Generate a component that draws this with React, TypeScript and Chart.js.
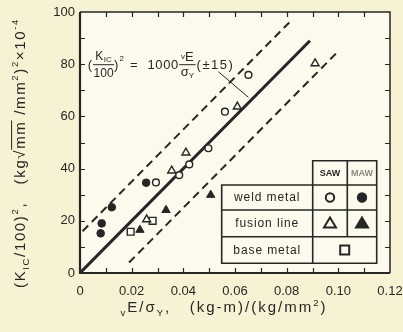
import React, { useEffect, useRef } from 'react';
import { Chart, registerables } from 'chart.js';

Chart.register(...registerables);

// ---------- data ----------
const xTickValues = [0, 0.02, 0.04, 0.06, 0.08, 0.1, 0.12];
const xTickLabels = ['0', '0.02', '0.04', '0.06', '0.08', '0.10', '0.12'];
const yTickValues = [0, 20, 40, 60, 80, 100];
const yTickLabels = ['0', '20', '40', '60', '80', '100'];

const sawWeldX = [0.0294, 0.0384, 0.0423, 0.0497, 0.0561, 0.0652];
const sawWeldY = [34.7, 37.5, 41.6, 47.8, 61.8, 75.9];
const mawWeldX = [0.008, 0.0084, 0.0123, 0.0256];
const mawWeldY = [15.2, 19.0, 25.2, 34.6];
const sawFusionX = [0.0258, 0.0355, 0.041, 0.0609, 0.091];
const sawFusionY = [20.5, 39.2, 46.1, 63.7, 80.3];
const mawFusionX = [0.0232, 0.0333, 0.0506];
const mawFusionY = [16.5, 24.1, 29.9];
const baseMetalX = [0.0196, 0.0281];
const baseMetalY = [15.8, 20.0];

const meanLineX = [0, 0.089];
const meanLineY = [0, 89];
const upperLineX = [0.001, 0.081];
const upperLineY = [16, 96];
const lowerLineX = [0.019, 0.1];
const lowerLineY = [4, 85];
const leaderX = [0.0536, 0.0652];
const leaderY = [77.1, 67.3];

const formulaAnchorX = 0.003;
const formulaAnchorY = 80;

const legendRows = ['weld metal', 'fusion line', 'base metal'];
const legendCols = ['SAW', 'MAW'];

// ---------- styles ----------
const INK = '#262626';
const OUTER_BG = '#f6f2d3';
const INNER_BG = '#fbfaec';
const FAM = '"Liberation Sans", Arial, Helvetica, sans-serif';

const pts = (xs: number[], ys: number[]) => xs.map((x, i) => ({ x, y: ys[i] }));

type Seg = { t: string; k?: 'sub' | 'sup'; over?: boolean };

function setFont(ctx: CanvasRenderingContext2D, size: number, weight = 'normal') {
  ctx.font = `${weight} ${size}px ${FAM}`;
}
function segSize(s: Seg, base: number) {
  return s.k ? base * 0.64 : base;
}
function segDy(s: Seg, base: number) {
  return s.k === 'sub' ? base * 0.28 : s.k === 'sup' ? -base * 0.42 : 0;
}
function richWidth(ctx: CanvasRenderingContext2D, segs: Seg[], base: number, ls: number) {
  let w = 0;
  for (const s of segs) {
    setFont(ctx, segSize(s, base));
    for (const ch of s.t) w += ctx.measureText(ch).width + ls;
  }
  return w;
}
function charCount(segs: Seg[]) {
  return segs.reduce((a, s) => a + [...s.t].length, 0);
}
function drawRich(ctx: CanvasRenderingContext2D, segs: Seg[], x: number, y: number, base: number, ls: number) {
  let cx = x;
  for (const s of segs) {
    const sz = segSize(s, base);
    setFont(ctx, sz);
    const start = cx;
    for (const ch of s.t) {
      ctx.fillText(ch, cx, y + segDy(s, base));
      cx += ctx.measureText(ch).width + ls;
    }
    if (s.over) {
      ctx.beginPath();
      ctx.lineWidth = 1;
      ctx.moveTo(start - 1, y - base * 0.86);
      ctx.lineTo(cx, y - base * 0.86);
      ctx.stroke();
    }
  }
  return cx - x;
}
function fitRich(ctx: CanvasRenderingContext2D, segs: Seg[], base: number, target: number) {
  const w0 = richWidth(ctx, segs, base, 0);
  return Math.max(0, (target - w0) / charCount(segs));
}

const yTitle: Seg[] = [
  { t: '(K' }, { t: 'IC', k: 'sub' }, { t: '/100)' }, { t: '2', k: 'sup' }, { t: ',   (kg' },
  { t: '√' }, { t: 'mm', over: true }, { t: ' /mm' }, { t: '2', k: 'sup' }, { t: ')' },
  { t: '2', k: 'sup' }, { t: '×10' }, { t: '-4', k: 'sup' },
];
const xTitle: Seg[] = [
  { t: 'v', k: 'sub' }, { t: 'E/σ' }, { t: 'Y', k: 'sub' }, { t: ',   (kg-m)/(kg/mm' },
  { t: '2', k: 'sup' }, { t: ')' },
];

function drawMarker(ctx: CanvasRenderingContext2D, kind: string, filled: boolean, x: number, y: number) {
  ctx.save();
  ctx.beginPath();
  if (kind === 'circle') ctx.arc(x, y, 4.2, 0, Math.PI * 2);
  else if (kind === 'triangle') {
    ctx.moveTo(x, y - 5.8);
    ctx.lineTo(x + 6, y + 4.2);
    ctx.lineTo(x - 6, y + 4.2);
    ctx.closePath();
  } else ctx.rect(x - 4.5, y - 4.5, 9, 9);
  ctx.fillStyle = filled ? INK : INNER_BG;
  ctx.fill();
  ctx.lineWidth = 2;
  ctx.strokeStyle = INK;
  ctx.stroke();
  ctx.restore();
}

const decorPlugin = {
  id: 'decor',
  beforeDraw(chart: any) {
    const { ctx, chartArea: ca } = chart;
    ctx.save();
    ctx.fillStyle = OUTER_BG;
    ctx.fillRect(0, 0, chart.width, chart.height);
    ctx.fillStyle = INNER_BG;
    ctx.fillRect(ca.left, ca.top, ca.right - ca.left, ca.bottom - ca.top);
    ctx.restore();
  },
  afterDatasetsDraw(chart: any) {
    const { ctx, chartArea: ca, scales } = chart;
    const xs = scales.x;
    const ys = scales.y;
    ctx.save();
    ctx.strokeStyle = INK;
    ctx.fillStyle = INK;

    // inner ticks on all sides
    ctx.lineWidth = 1.2;
    for (let i = 1; i < 12; i++) {
      const px = Math.round(xs.getPixelForValue(i * 0.01)) + 0.5;
      ctx.beginPath();
      ctx.moveTo(px, ca.bottom);
      ctx.lineTo(px, ca.bottom - 5);
      ctx.moveTo(px, ca.top);
      ctx.lineTo(px, ca.top + 5);
      ctx.stroke();
    }
    for (let i = 1; i < 10; i++) {
      const py = Math.round(ys.getPixelForValue(i * 10)) + 0.5;
      ctx.beginPath();
      ctx.moveTo(ca.left, py);
      ctx.lineTo(ca.left + 5, py);
      ctx.moveTo(ca.right, py);
      ctx.lineTo(ca.right - 5, py);
      ctx.stroke();
    }
    // frame
    ctx.lineWidth = 1.5;
    ctx.beginPath();
    ctx.moveTo(ca.left, ca.top);
    ctx.lineTo(ca.right, ca.top);
    ctx.lineTo(ca.right, ca.bottom);
    ctx.stroke();
    ctx.lineWidth = 2.2;
    ctx.beginPath();
    ctx.moveTo(ca.left, ca.top);
    ctx.lineTo(ca.left, ca.bottom);
    ctx.lineTo(ca.right, ca.bottom);
    ctx.stroke();

    // formula annotation
    const fx = xs.getPixelForValue(formulaAnchorX);
    const fy = ys.getPixelForValue(formulaAnchorY);
    ctx.textBaseline = 'alphabetic';
    ctx.textAlign = 'left';
    const mainB = fy + 4.5;
    let cx = fx;
    const put = (t: string, size: number, x: number, y: number, ls = 0) => {
      setFont(ctx, size);
      let px = x;
      for (const ch of t) {
        ctx.fillText(ch, px, y);
        px += ctx.measureText(ch).width + ls;
      }
      return px - x - ls;
    };
    const meas = (t: string, size: number) => {
      setFont(ctx, size);
      return ctx.measureText(t).width;
    };
    cx += put('(', 13, cx, mainB) + 1;
    // fraction K_IC / 100
    {
      const numW = meas('K', 12) + meas('IC', 8) + 0.5;
      const denW = meas('100', 12);
      const fw = Math.max(numW, denW) + 1;
      let nx = cx + (fw - numW) / 2;
      nx += put('K', 12, nx, fy - 4);
      put('IC', 8, nx + 0.5, fy - 2);
      put('100', 12, cx + (fw - denW) / 2, fy + 13);
      ctx.lineWidth = 1;
      ctx.beginPath();
      ctx.moveTo(cx, fy + 0.5);
      ctx.lineTo(cx + fw, fy + 0.5);
      ctx.stroke();
      cx += fw;
    }
    cx += put(')', 13, cx, mainB) + 1;
    cx += put('2', 8, cx, fy - 3) + 6;
    cx += put('=', 13, cx, mainB) + 10;
    cx += put('1000', 13, cx, mainB, 0.6) + 1;
    {
      const numW = meas('v', 8) + meas('E', 13);
      const denW = meas('σ', 13) + meas('Y', 8);
      const fw = Math.max(numW, denW) + 3;
      let nx = cx + (fw - numW) / 2;
      nx += put('v', 8, nx, fy - 5);
      put('E', 13, nx, fy - 3.5);
      let dx = cx + (fw - denW) / 2;
      dx += put('σ', 13, dx, fy + 11.5);
      put('Y', 8, dx, fy + 13.5);
      ctx.lineWidth = 1;
      ctx.beginPath();
      ctx.moveTo(cx, fy + 0.5);
      ctx.lineTo(cx + fw, fy + 0.5);
      ctx.stroke();
      cx += fw + 1;
    }
    put('(±15)', 13, cx, mainB, 1.5);

    // legend table
    const L = ca.left + 141.7;
    const C1 = ca.left + 232.7;
    const C2 = ca.left + 267.3;
    const R = ca.right - 13.3;
    const T0 = ca.bottom - 112.3;
    const T1 = ca.bottom - 88;
    const R1 = ca.bottom - 63;
    const R2 = ca.bottom - 36.3;
    const B = ca.bottom - 9.7;
    ctx.fillStyle = INNER_BG;
    ctx.fillRect(C1, T0, R - C1, T1 - T0);
    ctx.fillRect(L, T1, R - L, B - T1);
    ctx.strokeStyle = INK;
    ctx.lineWidth = 1.6;
    ctx.beginPath();
    ctx.rect(C1, T0, R - C1, T1 - T0);
    ctx.rect(L, T1, R - L, B - T1);
    ctx.moveTo(C1, T1);
    ctx.lineTo(C1, B);
    ctx.moveTo(C2, T0);
    ctx.lineTo(C2, R2);
    ctx.moveTo(L, R1);
    ctx.lineTo(R, R1);
    ctx.moveTo(L, R2);
    ctx.lineTo(R, R2);
    ctx.stroke();

    ctx.textAlign = 'center';
    ctx.textBaseline = 'middle';
    ctx.fillStyle = INK;
    setFont(ctx, 9, 'bold');
    ctx.fillText(legendCols[0], (C1 + C2) / 2, (T0 + T1) / 2 + 0.5);
    ctx.fillStyle = '#8a8a80';
    ctx.fillText(legendCols[1], (C2 + R) / 2, (T0 + T1) / 2 + 0.5);
    ctx.fillStyle = INK;
    ctx.textAlign = 'left';
    const rowYs = [(T1 + R1) / 2, (R1 + R2) / 2, (R2 + B) / 2];
    legendRows.forEach((t, i) => {
      const segs: Seg[] = [{ t }];
      const w = richWidth(ctx, segs, 12, 0.9);
      drawRich(ctx, segs, (L + C1) / 2 - w / 2, rowYs[i] + 0.5, 12, 0.9);
    });
    drawMarker(ctx, 'circle', false, (C1 + C2) / 2, rowYs[0]);
    drawMarker(ctx, 'circle', true, (C2 + R) / 2, rowYs[0]);
    drawMarker(ctx, 'triangle', false, (C1 + C2) / 2, rowYs[1]);
    drawMarker(ctx, 'triangle', true, (C2 + R) / 2, rowYs[1]);
    drawMarker(ctx, 'rect', false, (C1 + R) / 2, rowYs[2]);

    // axis titles
    ctx.textBaseline = 'alphabetic';
    ctx.textAlign = 'left';
    ctx.fillStyle = INK;
    ctx.strokeStyle = INK;
    {
      const ls = fitRich(ctx, yTitle, 15, 270);
      const w = richWidth(ctx, yTitle, 15, ls);
      ctx.save();
      ctx.translate(19, 153);
      ctx.rotate(-Math.PI / 2);
      drawRich(ctx, yTitle, -w / 2, 5.5, 15, ls);
      ctx.restore();
    }
    {
      const ls = fitRich(ctx, xTitle, 15, 207);
      const w = richWidth(ctx, xTitle, 15, ls);
      drawRich(ctx, xTitle, 224 - w / 2, 312, 15, ls);
    }
    ctx.restore();
  },
};

const openPt = { backgroundColor: INNER_BG, borderColor: INK, borderWidth: 1.4 };
const solidPt = { backgroundColor: INK, borderColor: INK, borderWidth: 1 };

export default function App() {
  const ref = useRef<HTMLCanvasElement>(null);
  useEffect(() => {
    if (!ref.current) return;
    const chart = new Chart(ref.current, {
      type: 'scatter',
      data: {
        datasets: [
          { label: 'SAW weld metal', data: pts(sawWeldX, sawWeldY), pointStyle: 'circle', pointRadius: 3.4, ...openPt, order: 0 },
          { label: 'MAW weld metal', data: pts(mawWeldX, mawWeldY), pointStyle: 'circle', pointRadius: 3.8, ...solidPt, order: 0 },
          { label: 'SAW fusion line', data: pts(sawFusionX, sawFusionY), pointStyle: 'triangle', pointRadius: 4.6, ...openPt, order: 0 },
          { label: 'MAW fusion line', data: pts(mawFusionX, mawFusionY), pointStyle: 'triangle', pointRadius: 4.8, ...solidPt, order: 0 },
          { label: 'base metal', data: pts(baseMetalX, baseMetalY), pointStyle: 'rect', pointRadius: 4.8, ...openPt, order: 0 },
          { label: 'mean', data: pts(meanLineX, meanLineY), showLine: true, pointRadius: 0, borderColor: INK, borderWidth: 3, order: 1 },
          { label: 'upper', data: pts(upperLineX, upperLineY), showLine: true, pointRadius: 0, borderColor: INK, borderWidth: 2, borderDash: [8, 5], order: 1 },
          { label: 'lower', data: pts(lowerLineX, lowerLineY), showLine: true, pointRadius: 0, borderColor: INK, borderWidth: 2, borderDash: [8, 5], order: 1 },
          { label: 'leader', data: pts(leaderX, leaderY), showLine: true, pointRadius: 0, borderColor: INK, borderWidth: 1, order: 1 },
        ],
      } as any,
      options: {
        responsive: false,
        animation: false,
        events: [],
        layout: { padding: { top: 12, right: 13, left: 0, bottom: 0 } },
        plugins: { legend: { display: false }, tooltip: { enabled: false }, title: { display: false } },
        scales: {
          x: {
            type: 'linear',
            min: 0,
            max: 0.12,
            grid: { display: false, drawTicks: false },
            border: { display: false },
            afterBuildTicks: (s: any) => {
              s.ticks = xTickValues.map((value) => ({ value }));
            },
            afterFit: (s: any) => {
              s.height = 59;
              s.paddingLeft = 0;
              s.paddingRight = 0;
            },
            ticks: {
              autoSkip: false,
              maxRotation: 0,
              padding: 11,
              color: INK,
              font: { family: FAM, size: 13 },
              callback: (v: any) => {
                const i = xTickValues.findIndex((t) => Math.abs(t - Number(v)) < 1e-9);
                return i >= 0 ? xTickLabels[i] : '';
              },
            },
          },
          y: {
            type: 'linear',
            min: 0,
            max: 100,
            grid: { display: false, drawTicks: false },
            border: { display: false },
            afterBuildTicks: (s: any) => {
              s.ticks = yTickValues.map((value) => ({ value }));
            },
            afterFit: (s: any) => {
              s.width = 80;
              s.paddingTop = 0;
              s.paddingBottom = 0;
            },
            ticks: {
              autoSkip: false,
              padding: 5,
              color: INK,
              font: { family: FAM, size: 13 },
              callback: (v: any) => {
                const i = yTickValues.findIndex((t) => Math.abs(t - Number(v)) < 1e-9);
                return i >= 0 ? yTickLabels[i] : '';
              },
            },
          },
        },
      } as any,
      plugins: [decorPlugin],
    });
    return () => chart.destroy();
  }, []);
  return (
    <div style={{ position: 'absolute', left: 0, top: 0, width: 403, height: 332, background: OUTER_BG }}>
      <canvas ref={ref} width={403} height={332} style={{ display: 'block', width: 403, height: 332 }} />
    </div>
  );
}
